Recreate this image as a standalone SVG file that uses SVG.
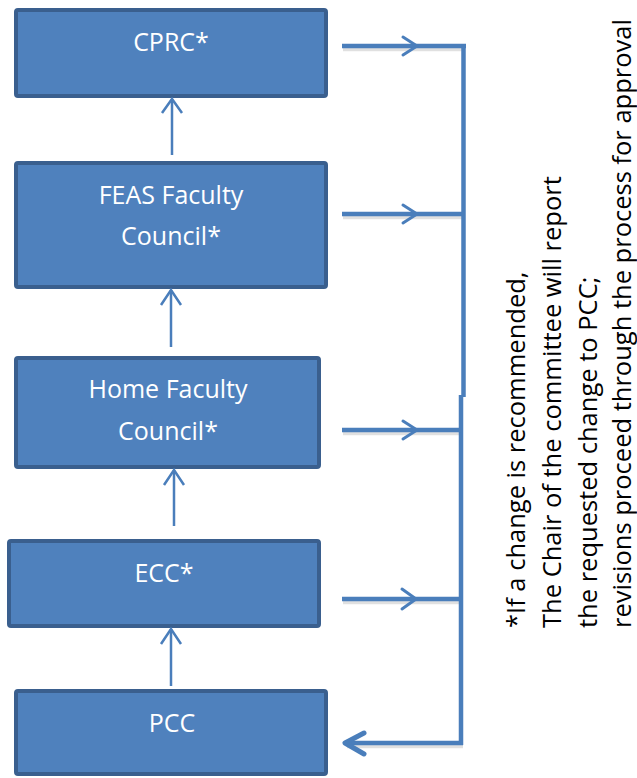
<svg xmlns="http://www.w3.org/2000/svg" width="637" height="778" viewBox="0 0 637 778">
  <style>
    .box { fill: #4f81bd; stroke: #3a5f8e; stroke-width: 4; }
    .lbl { font-family: "Open Sans", "Liberation Sans", sans-serif; font-size: 25px; fill: #ffffff; text-anchor: middle; }
    .up { stroke: #4a7ebb; stroke-width: 2.5; fill: none; }
    .br { stroke: #4a7ebb; stroke-width: 4.5; fill: none; }
    .chev { stroke: #4a7ebb; stroke-width: 3; fill: none; stroke-linecap: round; stroke-linejoin: round; }
    .ret { stroke: #4a7ebb; stroke-width: 5; fill: none; stroke-linecap: round; stroke-linejoin: round; }
    .note { font-family: "Open Sans", "Liberation Sans", sans-serif; font-size: 25.5px; fill: #000000; }
    .shadow { stroke: #000000; stroke-opacity: 0.12; stroke-width: 4.5; fill: none; }
  </style>

  <g id="node-cprc">
    <rect class="box" x="16" y="10" width="310" height="86" rx="2"/>
    <text class="lbl" x="171" y="51">CPRC*</text>
  </g>
  <g id="node-feas">
    <rect class="box" x="16" y="163" width="310" height="124" rx="2"/>
    <text class="lbl" x="171" y="204">FEAS Faculty</text>
    <text class="lbl" x="171" y="245">Council*</text>
  </g>
  <g id="node-home">
    <rect class="box" x="16" y="358" width="303" height="109" rx="2"/>
    <text class="lbl" x="168" y="398">Home Faculty</text>
    <text class="lbl" x="168" y="440">Council*</text>
  </g>
  <g id="node-ecc">
    <rect class="box" x="9" y="541" width="310" height="85" rx="2"/>
    <text class="lbl" x="164" y="582">ECC*</text>
  </g>
  <g id="node-pcc">
    <rect class="box" x="16" y="691" width="310" height="83" rx="2"/>
    <text class="lbl" x="172" y="732">PCC</text>
  </g>

  <g id="connectors">
    <!-- upward arrows between boxes -->
    <line class="up" x1="172" y1="155" x2="172" y2="99"/>
    <polyline class="up" points="162,113 172,99 182,113"/>
    <line class="up" x1="171" y1="347" x2="171" y2="290"/>
    <polyline class="up" points="161,305 171,290 181,305"/>
    <line class="up" x1="174" y1="526" x2="174" y2="470"/>
    <polyline class="up" points="164,485 174,470 184,485"/>
    <line class="up" x1="171" y1="686" x2="171" y2="629"/>
    <polyline class="up" points="161,644 171,629 181,644"/>

    <!-- shadows -->
    <path class="shadow" d="M343,49 H465 M343,217 H465 M343,433 H462 M343,602 H462 M463,746 H347"/>

    <!-- bracket lines -->
    <line class="br" x1="342" y1="46" x2="466" y2="46"/>
    <line class="br" x1="463.5" y1="44" x2="463.5" y2="397"/>
    <line class="br" x1="342" y1="214" x2="463" y2="214"/>
    <line class="br" x1="461" y1="395" x2="461" y2="745"/>
    <line class="br" x1="342" y1="430" x2="461" y2="430"/>
    <line class="br" x1="342" y1="599" x2="461" y2="599"/>
    <line class="br" x1="463" y1="743" x2="346" y2="743"/>

    <!-- chevrons on horizontal lines -->
    <polyline class="chev" points="403,37 417,46 403,55"/>
    <polyline class="chev" points="403,205 417,214 403,223"/>
    <polyline class="chev" points="403,421 417,430 403,439"/>
    <polyline class="chev" points="402,589 416,599 402,609"/>
    <!-- return arrowhead to PCC -->
    <polyline class="ret" points="364,733 345,743 364,754"/>
  </g>

  <g id="note" transform="rotate(-90)">
    <text class="note" x="-628" y="525">*If a change is recommended,</text>
    <text class="note" x="-628" y="561">The Chair of the committee will report</text>
    <text class="note" x="-628" y="597">the requested change to PCC;</text>
    <text class="note" x="-628" y="631">revisions proceed through the process for approval</text>
  </g>
</svg>
